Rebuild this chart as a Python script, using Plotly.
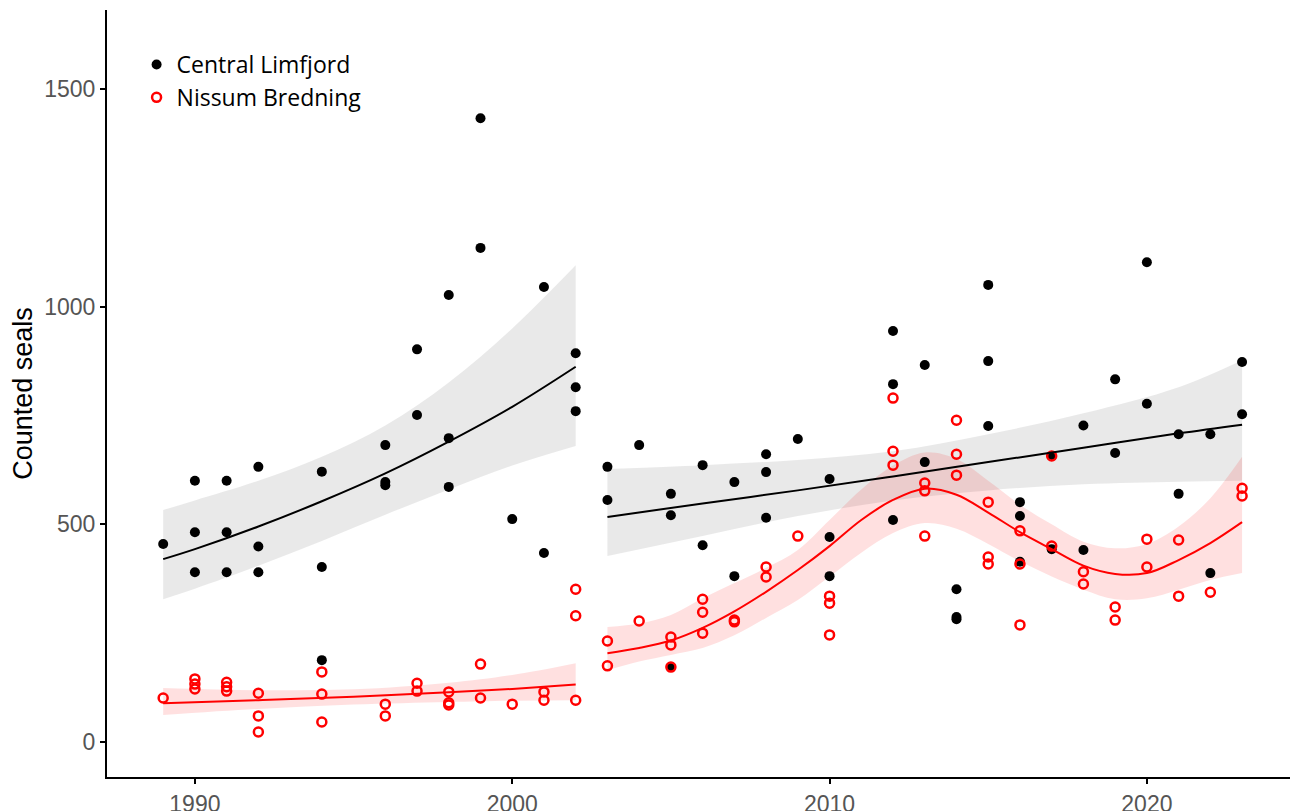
import plotly.graph_objects as go

# observed counts, Central Limfjord
cl_year = [1989, 1990, 1990, 1990, 1991, 1991, 1991, 1992, 1992, 1992,
           1994, 1994, 1994, 1996, 1996, 1996, 1997, 1997, 1998, 1998, 1998,
           1999, 1999, 2000, 2001, 2001, 2002, 2002, 2002,
           2003, 2003, 2004, 2005, 2005, 2005, 2006, 2006, 2007, 2007,
           2008, 2008, 2008, 2009, 2010, 2010, 2010, 2012, 2012, 2012,
           2013, 2013, 2014, 2014, 2014, 2015, 2015, 2015, 2016, 2016, 2016,
           2017, 2017, 2018, 2018, 2019, 2019, 2020, 2020, 2021, 2021,
           2022, 2022, 2023, 2023]
cl_count = [455, 600, 482, 390, 600, 482, 390, 632, 449, 390,
            621, 402, 188, 682, 597, 590, 902, 751, 1027, 698, 586,
            1433, 1135, 512, 1045, 434, 893, 815, 760,
            632, 556, 682, 570, 521, 172, 636, 452, 597, 381,
            661, 620, 515, 696, 604, 471, 381, 944, 822, 510,
            866, 643, 351, 287, 282, 1050, 875, 726, 551, 519, 414,
            657, 443, 727, 441, 833, 664, 1102, 777, 707, 570,
            707, 388, 873, 753]

# observed counts, Nissum Bredning
nb_year = [1989, 1990, 1990, 1990, 1991, 1991, 1991, 1992, 1992, 1992,
           1994, 1994, 1994, 1996, 1996, 1997, 1997, 1998, 1998, 1998,
           1999, 1999, 2000, 2001, 2001, 2002, 2002, 2002,
           2003, 2003, 2004, 2005, 2005, 2005, 2006, 2006, 2006, 2007, 2007,
           2008, 2008, 2009, 2010, 2010, 2010, 2012, 2012, 2012,
           2013, 2013, 2013, 2014, 2014, 2014, 2015, 2015, 2015,
           2016, 2016, 2016, 2017, 2017, 2018, 2018, 2019, 2019,
           2020, 2020, 2021, 2021, 2022, 2023, 2023]
nb_count = [101, 145, 133, 122, 137, 127, 117, 112, 60, 23,
            161, 110, 46, 87, 60, 135, 117, 115, 90, 85,
            179, 101, 87, 115, 96, 351, 290, 96,
            232, 175, 278, 241, 223, 172, 328, 298, 250, 280, 276,
            402, 379, 473, 335, 319, 246, 790, 668, 636,
            595, 577, 473, 739, 661, 613, 551, 425, 409,
            485, 409, 269, 657, 450, 391, 363, 310, 280,
            466, 402, 464, 335, 344, 583, 565]

# fitted trends
cl_fit1_year = [1989, 1990, 1992, 1994, 1996, 1998, 2000, 2002]
cl_fit1 = [420, 443, 495, 553, 617, 690, 770, 862]
cl_fit1_lo = [328, 352, 405, 462, 522, 580, 635, 680]
cl_fit1_hi = [533, 555, 600, 655, 727, 826, 950, 1095]

cl_fit2_year = [2003, 2006, 2009, 2012, 2015, 2018, 2021, 2023]
cl_fit2 = [517, 548, 578, 610, 643, 676, 709, 729]
cl_fit2_lo = [427, 473, 519, 555, 578, 592, 598, 600]
cl_fit2_hi = [627, 636, 648, 668, 707, 755, 815, 877]

nb_fit1_year = [1989, 1992, 1995, 1998, 2000, 2002]
nb_fit1 = [89, 96, 104, 114, 122, 132]
nb_fit1_lo = [62, 76, 86, 92, 95, 96]
nb_fit1_hi = [124, 119, 121, 136, 154, 181]

nb_fit2_year = list(range(2003, 2024))
nb_fit2 = [204, 216, 233, 262, 300, 345, 395, 450, 510, 556, 582,
           568, 527, 482, 443, 405, 386, 388, 418, 457, 505]
nb_fit2_lo = [165, 185, 200, 216, 245, 285, 326, 380, 435, 480, 503,
              490, 455, 415, 380, 350, 328, 330, 350, 372, 388]
nb_fit2_hi = [264, 272, 292, 330, 365, 400, 441, 510, 580, 635, 665,
              650, 600, 545, 500, 460, 445, 455, 495, 560, 655]

GREY_FILL = 'rgba(153, 153, 153, 0.22)'
PINK_FILL = 'rgba(255, 0, 0, 0.12)'

fig = go.Figure()


def add_band(x, lo, hi, fill):
    # lower edge first, upper edge fills down to it
    fig.add_trace(go.Scatter(
        x=x, y=lo, mode='lines', line=dict(width=0, shape='spline'),
        showlegend=False, hoverinfo='skip'))
    fig.add_trace(go.Scatter(
        x=x, y=hi, mode='lines', fill='tonexty', fillcolor=fill,
        line=dict(width=0, shape='spline'), showlegend=False, hoverinfo='skip'))


def add_line(x, y, color):
    fig.add_trace(go.Scatter(
        x=x, y=y, mode='lines', line=dict(color=color, width=2, shape='spline'),
        showlegend=False, hoverinfo='skip'))


add_band(cl_fit1_year, cl_fit1_lo, cl_fit1_hi, GREY_FILL)
add_band(cl_fit2_year, cl_fit2_lo, cl_fit2_hi, GREY_FILL)
add_band(nb_fit1_year, nb_fit1_lo, nb_fit1_hi, PINK_FILL)
add_band(nb_fit2_year, nb_fit2_lo, nb_fit2_hi, PINK_FILL)

fig.add_trace(go.Scatter(
    x=cl_year, y=cl_count, mode='markers', name='Central Limfjord',
    marker=dict(color='black', size=10, symbol='circle')))
fig.add_trace(go.Scatter(
    x=nb_year, y=nb_count, mode='markers', name='Nissum Bredning',
    marker=dict(color='red', size=9, symbol='circle-open', line=dict(color='red', width=2.5))))

add_line(cl_fit1_year, cl_fit1, 'black')
add_line(cl_fit2_year, cl_fit2, 'black')
add_line(nb_fit1_year, nb_fit1, 'red')
add_line(nb_fit2_year, nb_fit2, 'red')

# page body adds an 8px offset, margins compensate for it
fig.update_layout(
    width=1299, height=811,
    margin=dict(l=99, r=17, t=2, b=42),
    paper_bgcolor='white', plot_bgcolor='white',
    font=dict(family='Liberation Sans, Arial, sans-serif', color='#555'),
    legend=dict(
        x=0.025, y=0.957, xanchor='left', yanchor='top',
        bgcolor='rgba(0,0,0,0)', tracegroupgap=0, traceorder='normal',
        font=dict(family='Open Sans, sans-serif', size=23, color='black'),
    ),
    xaxis=dict(
        range=[1987.23, 2024.51], tickvals=[1990, 2000, 2010, 2020],
        showgrid=False, zeroline=False, showline=True, linecolor='black', linewidth=2,
        ticks='outside', ticklen=5, tickcolor='black', tickwidth=1.5,
        tickfont=dict(size=23, color='#555'), automargin=False,
    ),
    yaxis=dict(
        range=[-80.4, 1681.5], tickvals=[0, 500, 1000, 1500],
        showgrid=False, zeroline=False, showline=True, linecolor='black', linewidth=2,
        ticks='outside', ticklen=5, tickcolor='black', tickwidth=1.5,
        tickfont=dict(size=23, color='#555'), automargin=False,
        title=dict(text='Counted seals', font=dict(size=27, color='black'), standoff=6),
    ),
)

fig.write_html("out.html")
